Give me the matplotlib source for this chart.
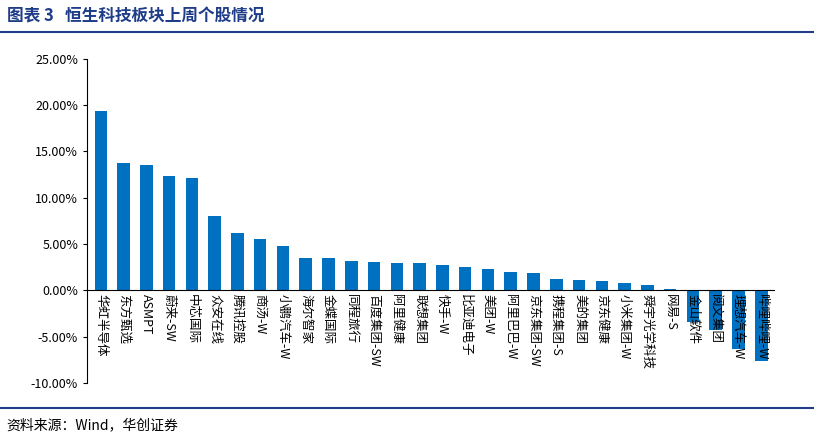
import matplotlib
matplotlib.use("Agg")
import matplotlib.pyplot as plt
from matplotlib.ticker import FuncFormatter
from matplotlib.lines import Line2D

plt.rcParams['font.family'] = ['Noto Sans CJK SC', 'DejaVu Sans']

names = ["华虹半导体","东方甄选","ASMPT","蔚来-SW","中芯国际","众安在线","腾讯控股","商汤-W","小鹏汽车-W","海尔智家",
         "金蝶国际","同程旅行","百度集团-SW","阿里健康","联想集团","快手-W","比亚迪电子","美团-W","阿里巴巴-W","京东集团-SW",
         "携程集团-S","美的集团","京东健康","小米集团-W","舜宇光学科技","网易-S","金山软件","阅文集团","理想汽车-W","哔哩哔哩-W"]
values = [19.4,13.8,13.5,12.3,12.1,8.0,6.2,5.5,4.8,3.5,
          3.5,3.2,3.1,3.0,3.0,2.7,2.5,2.3,2.0,1.9,
          1.2,1.1,1.0,0.8,0.6,0.15,-3.4,-4.3,-6.3,-7.6]

fig = plt.figure(figsize=(8.14,4.40), dpi=100)
ax = fig.add_axes([0.107,0.13,0.845,0.736])
x = range(len(names))
ax.bar(x, values, width=0.55, color="#0070C0", zorder=2)
ax.set_ylim(-10,25)
ax.set_yticks(range(-10,26,5))
ax.yaxis.set_major_formatter(FuncFormatter(lambda v,p: f"{v:.2f}%"))
ax.set_xlim(-0.6, len(names)-0.4)
ax.set_xticks([])
for s in ["top","right","bottom"]:
    ax.spines[s].set_visible(False)
ax.axhline(0, color="black", lw=0.8, zorder=3)
ax.tick_params(axis='y', labelsize=9, length=3)
for i, n in enumerate(names):
    ax.text(i, -0.4, n, rotation=-90, ha='center', va='top', fontsize=9, zorder=4)

fig.text(0.008, 0.962, "图表 3   恒生科技板块上周个股情况", fontsize=12, fontweight='bold', color="#1F3C88", va='center')
fig.add_artist(Line2D([0.0,1.0],[0.928,0.928], color="#1F3C88", lw=1.5))
fig.add_artist(Line2D([0.0,1.0],[0.072,0.072], color="#1F3C88", lw=1.5))
fig.text(0.008, 0.033, "资料来源：Wind，华创证券", fontsize=10, style='italic', va='center')
fig.savefig("out.png", dpi=100)
